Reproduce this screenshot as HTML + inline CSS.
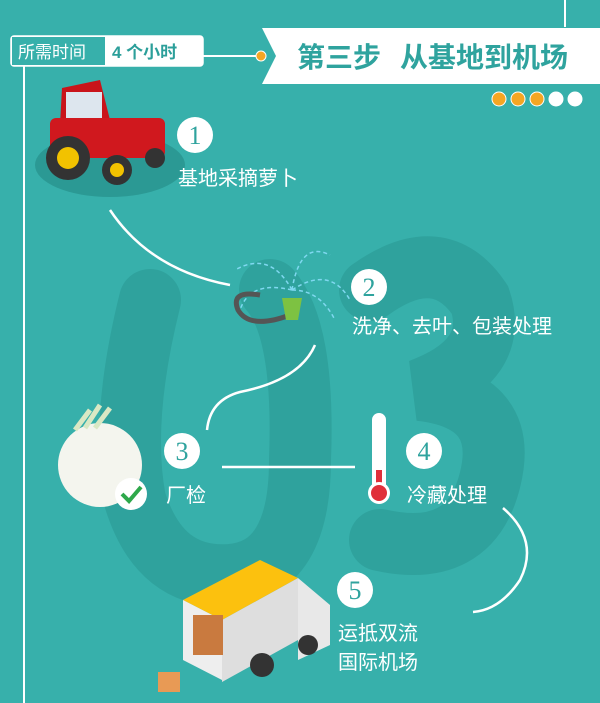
<!DOCTYPE html>
<html><head><meta charset="utf-8"><style>
body{margin:0;width:600px;height:703px;overflow:hidden;background:#37b0ab;font-family:"Liberation Sans","Noto Sans CJK SC",sans-serif}
</style></head><body>
<svg width="600" height="703" viewBox="0 0 600 703" xmlns="http://www.w3.org/2000/svg" style="position:absolute;left:0;top:0">
<rect width="600" height="703" fill="#37b0ab"/>
<!-- big 03 -->
<g fill="none" stroke="#2fa29d" stroke-width="62" stroke-linecap="round">
<path d="M150 300 Q120 420 135 500 Q160 580 230 575 Q300 570 300 460 Q305 330 270 290"/>
<path d="M370 290 Q440 240 480 300 Q500 360 420 390 Q510 400 490 480 Q470 560 380 540"/>
</g>
<!-- lines -->
<g stroke="#fff" stroke-width="2" fill="none">
<line x1="24" y1="66" x2="24" y2="703"/>
<line x1="565" y1="0" x2="565" y2="27"/>
<line x1="203" y1="56" x2="258" y2="56"/>
<path d="M110 210 Q150 270 230 285" stroke-width="2.5"/>
<path d="M315 345 Q300 380 240 392 Q210 400 207 430" stroke-width="2.5"/>
<line x1="222" y1="467" x2="355" y2="467" stroke-width="2.5"/>
<path d="M503 508 Q540 540 520 580 Q500 610 473 612" stroke-width="2.5"/>
</g>
<!-- time box -->
<rect x="11" y="36" width="192" height="30" rx="3" fill="#fff" stroke="#fff" stroke-width="1.5"/>
<rect x="12" y="37" width="93" height="28" fill="#37b0ab"/>
<text x="18" y="58" font-size="17" fill="#fff">所需时间</text>
<text x="112" y="58" font-size="17" font-weight="bold" fill="#2c9f9a">4 个小时</text>
<circle cx="261" cy="56" r="5" fill="#f5a623" stroke="#fff" stroke-width="1"/>
<!-- banner -->
<polygon points="262,28 600,28 600,84 262,84 276,56" fill="#fff"/>
<text x="297" y="67" font-size="28" font-weight="bold" fill="#2fa39e">第三步</text>
<text x="400" y="67" font-size="28" font-weight="bold" fill="#2fa39e">从基地到机场</text>
<g stroke="#fff" stroke-width="1">
<circle cx="499" cy="99" r="7" fill="#f5a623"/><circle cx="518" cy="99" r="7" fill="#f5a623"/><circle cx="537" cy="99" r="7" fill="#f5a623"/>
<circle cx="556" cy="99" r="7" fill="#fff"/><circle cx="575" cy="99" r="7" fill="#fff"/>
</g>
<!-- tractor -->
<ellipse cx="110" cy="165" rx="75" ry="32" fill="#2b9994"/>
<path d="M62 88 L100 80 L110 120 L60 125 Z" fill="#c9141a"/>
<rect x="66" y="92" width="36" height="28" fill="#dde6ee"/>
<rect x="50" y="118" width="115" height="40" rx="6" fill="#d0181e"/>
<circle cx="68" cy="158" r="22" fill="#333"/><circle cx="68" cy="158" r="11" fill="#f2c200"/>
<circle cx="117" cy="170" r="15" fill="#333"/><circle cx="117" cy="170" r="7" fill="#f2c200"/>
<circle cx="155" cy="158" r="10" fill="#333"/>
<!-- sprinkler -->
<g stroke="#7fd8f0" stroke-width="1.5" stroke-dasharray="4 3" fill="none">
<path d="M292 290 Q270 250 235 270"/><path d="M292 290 Q300 240 330 255"/><path d="M292 290 Q330 265 350 300"/><path d="M292 290 Q250 280 240 310"/><path d="M292 290 Q320 290 335 320"/>
</g>
<path d="M290 315 Q250 330 238 310 Q230 290 260 295" stroke="#555" stroke-width="5" fill="none"/>
<path d="M282 298 L302 298 L298 320 L286 320 Z" fill="#7dc242"/>
<!-- turnip -->
<ellipse cx="100" cy="465" rx="42" ry="42" fill="#f4f5ee"/>
<path d="M75 430 L90 410 M85 428 L100 405 M95 428 L110 408" stroke="#d9e8c4" stroke-width="5"/>
<circle cx="131" cy="494" r="16" fill="#fff"/>
<path d="M122 494 L129 501 L141 487" stroke="#2ea84b" stroke-width="4" fill="none"/>
<!-- thermometer -->
<rect x="372" y="413" width="14" height="80" rx="7" fill="#fff"/>
<rect x="376" y="470" width="6" height="25" fill="#e0303a"/>
<circle cx="379" cy="493" r="11" fill="#fff"/><circle cx="379" cy="493" r="8" fill="#e0303a"/>
<!-- truck -->
<polygon points="183,600 260,560 298,578 222,620" fill="#fcc10e"/>
<polygon points="183,600 222,620 222,680 183,660" fill="#eee"/>
<polygon points="222,620 298,578 298,640 222,682" fill="#dedede"/>
<polygon points="298,578 330,605 330,645 298,660" fill="#e8e8e8"/>
<rect x="193" y="615" width="30" height="40" fill="#c97a3f"/>
<circle cx="262" cy="665" r="12" fill="#333"/><circle cx="308" cy="645" r="10" fill="#333"/>
<rect x="158" y="672" width="22" height="20" fill="#e89a55"/>
<!-- circles -->
<g fill="#fff"><circle cx="195" cy="135" r="18"/><circle cx="369" cy="287" r="18"/><circle cx="182" cy="451" r="18"/><circle cx="424" cy="451" r="18"/><circle cx="355" cy="590" r="18"/></g>
<g font-family="Liberation Serif,serif" font-size="26" fill="#2fa39e" text-anchor="middle">
<text x="195" y="144">1</text><text x="369" y="296">2</text><text x="182" y="460">3</text><text x="424" y="460">4</text><text x="355" y="599">5</text>
</g>
<g font-size="20" fill="#fff">
<text x="178" y="185">基地采摘萝卜</text>
<text x="352" y="333">洗净、去叶、包装处理</text>
<text x="166" y="502">厂检</text>
<text x="407" y="502">冷藏处理</text>
<text x="338" y="640">运抵双流</text>
<text x="338" y="669">国际机场</text>
</g>
</svg>
</body></html>
